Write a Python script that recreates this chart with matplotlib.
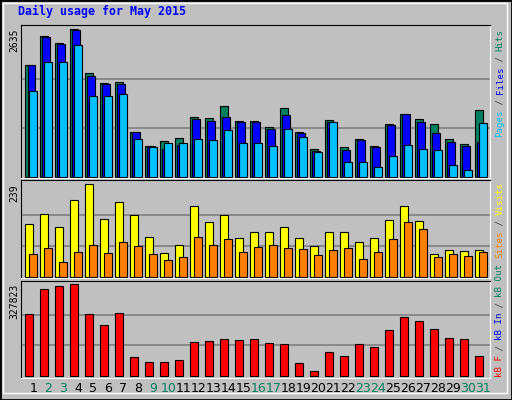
import matplotlib
matplotlib.use("Agg")
import matplotlib.pyplot as plt
from matplotlib.patches import Rectangle

days = list(range(1, 32))
weekend = [2, 3, 9, 10, 16, 17, 23, 24, 30, 31]
hits = [1991, 2510, 2385, 2635, 1848, 1669, 1687, 793, 542, 632, 686, 1061, 1043, 1258, 990, 990,
        882, 1222, 793, 489, 1007, 525, 668, 542, 936, 1115, 1025, 936, 668, 578, 1186]
files = [1991, 2492, 2367, 2617, 1794, 1651, 1651, 793, 542, 489, 560, 1025, 990, 1061, 972, 972,
         846, 1097, 775, 453, 972, 471, 650, 525, 918, 1115, 972, 775, 614, 542, 614]
pages = [1526, 2045, 2045, 2349, 1437, 1437, 1472, 668, 525, 596, 596, 668, 650, 829, 596, 596,
         542, 846, 703, 435, 972, 256, 256, 167, 364, 560, 489, 471, 203, 113, 954]
visits = [135, 161, 128, 198, 239, 148, 192, 159, 102, 60, 81, 182, 141, 159, 99, 115,
          115, 128, 99, 79, 115, 115, 89, 99, 146, 182, 143, 58, 68, 66, 68]
sites = [58, 73, 37, 63, 81, 60, 89, 79, 58, 42, 50, 102, 81, 97, 63, 76,
         81, 73, 71, 55, 68, 73, 45, 63, 97, 141, 123, 50, 58, 53, 63]
kbytes = [220138, 309868, 320635, 327823, 220138, 180656, 223727, 65802, 47856, 47856, 55034,
          119640, 123229, 130408, 126818, 130408, 116051, 112462, 44267, 15553, 83748, 69391,
          112462, 101694, 162710, 209370, 195013, 166300, 133997, 130408, 69391]

W, H = 512, 400
fig = plt.figure(figsize=(W / 100, H / 100), dpi=100, facecolor="#C0C0C0")
fig.patches.append(Rectangle((0, 0), 1, 1, transform=fig.transFigure, fill=False,
                             edgecolor="black", linewidth=2))
fig.patches.append(Rectangle((3 / W, 7 / H), 504 / W, 390 / H, transform=fig.transFigure,
                             fill=False, edgecolor="white", linewidth=1))

def ax_px(x0, y0, x1, y1):
    ax = fig.add_axes([x0 / W, 1 - y1 / H, (x1 - x0) / W, (y1 - y0) / H])
    ax.set_facecolor("#C0C0C0")
    ax.set_xlim(0.35, 31.66)
    ax.set_xticks([]); ax.set_yticks([])
    for s in ["left", "top"]:
        ax.spines[s].set_color("black")
    for s in ["right", "bottom"]:
        ax.spines[s].set_color("white")
    return ax

mono = "DejaVu Sans Mono"
lx = [d - 0.317 for d in days]
rx = [d - 0.05 for d in days]
mx = [d - 0.183 for d in days]

# top
ax1 = ax_px(20.5, 24.5, 490, 178)
ax1.set_ylim(-23, 2724)
for g in (2635 / 3, 2 * 2635 / 3):
    ax1.axhline(g, color="#808080", lw=1.2, zorder=0)
ax1.bar(lx, hits, width=0.5, align="edge", color="#00805F", edgecolor="black", lw=0.8)
ax1.bar(mx, files, width=0.5, align="edge", color="#0000FF", edgecolor="black", lw=0.8)
ax1.bar(rx, pages, width=0.49, align="edge", color="#00C0FF", edgecolor="black", lw=0.8)

# middle
ax2 = ax_px(20.5, 180, 490, 278)
ax2.set_ylim(-3.4, 250)
for g in (239 / 3, 2 * 239 / 3):
    ax2.axhline(g, color="#808080", lw=1.2, zorder=0)
ax2.bar(lx, visits, width=0.53, align="edge", color="#FFFF00", edgecolor="black", lw=0.8)
ax2.bar(rx, sites, width=0.49, align="edge", color="#FF8000", edgecolor="black", lw=0.8)

# bottom
ax3 = ax_px(20.5, 280.5, 490, 377.5)
ax3.set_ylim(-7200, 342000)
for g in (327823 / 3, 2 * 327823 / 3):
    ax3.axhline(g, color="#808080", lw=1.2, zorder=0)
ax3.bar(lx, kbytes, width=0.49, align="edge", color="#FF0000", edgecolor="black", lw=0.8)

for d in days:
    ax3.text(d + 0.2, -0.05, str(d), transform=ax3.get_xaxis_transform(), ha="center",
             va="top", fontsize=9, family="DejaVu Sans",
             color="#00805F" if d in weekend else "black")

fig.text(18 / W, 1 - 5 / H, "Daily usage for May 2015", fontsize=8.4, family=mono,
         fontweight="bold", color="#0000FF", va="top", ha="left")
fig.text(14 / W, 1 - 28 / H, "2635", rotation=90, fontsize=7, family=mono, ha="center", va="top")
fig.text(14 / W, 1 - 184 / H, "239", rotation=90, fontsize=7, family=mono, ha="center", va="top")
fig.text(14 / W, 1 - 284 / H, "327823", rotation=90, fontsize=7, family=mono, ha="center", va="top")

step = 5.35
def vlabel(ybottom, pieces):
    y = ybottom
    for txt, col in pieces:
        fig.text(500 / W, 1 - y / H, txt, rotation=90, fontsize=6.6, family=mono,
                 color=col, ha="center", va="bottom")
        y -= step * len(txt)

sl = "#404040"
vlabel(137, [("Pages", "#00C0FF"), (" / ", sl), ("Files", "#0000FF"), (" / ", sl), ("Hits", "#00805F")])
vlabel(258, [("Sites", "#FF8000"), (" / ", sl), ("Visits", "#FFFF00")])
vlabel(377, [("kB F", "#FF0000"), (" / ", sl), ("kB In", "#0000FF"), (" / ", sl), ("kB Out", "#00805F")])

fig.savefig("out.png", dpi=100, facecolor=fig.get_facecolor())
